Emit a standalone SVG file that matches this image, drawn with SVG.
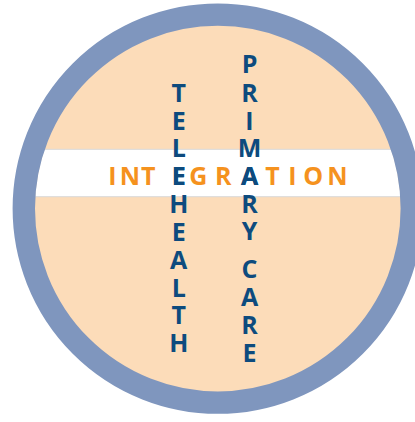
<svg xmlns="http://www.w3.org/2000/svg" width="415" height="422" viewBox="0 0 415 422">
  <defs>
    <clipPath id="inner">
      <circle cx="217.8" cy="208.6" r="183"/>
    </clipPath>
  </defs>
  <style>
    .word { font-family: "Open Sans", "Liberation Sans", sans-serif; font-weight: bold; font-size: 25px; text-anchor: middle; }
    .blue { fill: #0D4B7E; }
    .orange { fill: #F5921E; }
  </style>
  <rect x="0" y="0" width="415" height="422" fill="#FFFFFF"/>
  <g id="disc">
    <circle cx="217.8" cy="208.6" r="190" fill="#FCDCB9"/>
    <g clip-path="url(#inner)">
      <rect x="0" y="149.3" width="415" height="47.4" fill="#FFFFFF"/>
      <line x1="0" y1="149.3" x2="415" y2="149.3" stroke="#D9D9D9" stroke-width="1"/>
      <line x1="0" y1="196.7" x2="415" y2="196.7" stroke="#D9D9D9" stroke-width="1"/>
    </g>
    <circle cx="217.8" cy="208.6" r="194" fill="none" stroke="#7F96BE" stroke-width="22.4"/>
  </g>
  <g id="integration">
    <text class="word orange" y="184.5"><tspan x="112.5">I</tspan><tspan x="130">N</tspan><tspan x="148.3">T</tspan><tspan x="178.7" class="blue">E</tspan><tspan x="198.3">G</tspan><tspan x="223.3">R</tspan><tspan x="249.5" class="blue">A</tspan><tspan x="272.5">T</tspan><tspan x="292.5">I</tspan><tspan x="313.3">O</tspan><tspan x="337.5">N</tspan></text>
  </g>
  <g id="telehealth">
    <text class="word blue" x="178.7 178.7 178.7 178.7 178.7 178.7 178.7 178.7 178.7 178.7" y="102 130 157.3 184.5 212.7 241 268.5 296.5 323.5 351.5">TELEHEALTH</text>
  </g>
  <g id="primary-care">
    <text class="word blue" x="249.5 249.5 249.5 249.5 249.5 249.5 249.5 249.5 249.5 249.5 249.5 249.5" y="73 101.5 129.7 157 184.5 212.7 240 258 277.5 306 334 362">PRIMARY CARE</text>
  </g>
</svg>
